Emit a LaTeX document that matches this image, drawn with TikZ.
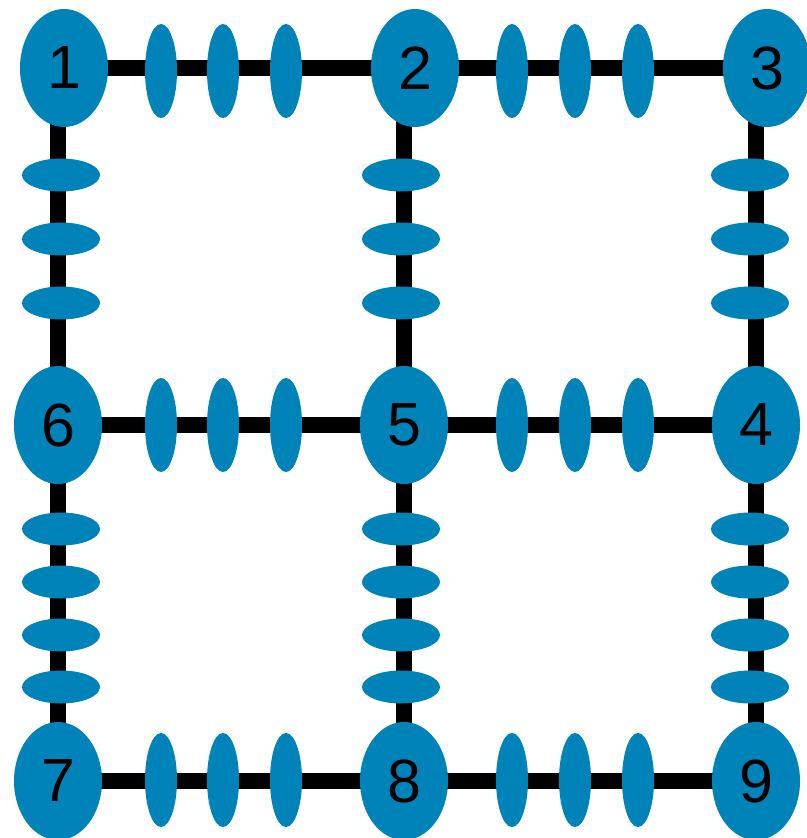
\documentclass[tikz,border=0pt]{standalone}
\usepackage{fontspec}
\setmainfont{Liberation Sans}
\usetikzlibrary{shapes.geometric,backgrounds}
\definecolor{beadblue}{HTML}{0083B8}

\tikzset{
  site/.style={ellipse, fill=beadblue, draw=none, inner sep=0pt,
    minimum width=88pt, minimum height=118pt, font=\fontsize{61}{61}\selectfont},
  beadv/.style={ellipse, fill=beadblue, draw=none, inner sep=0pt,
    minimum width=32pt, minimum height=94pt},
  beadh/.style={ellipse, fill=beadblue, draw=none, inner sep=0pt,
    minimum width=78pt, minimum height=33pt},
  bond/.style={line width=16pt, black},
}

\begin{document}
\begin{tikzpicture}[x=1pt,y=-1pt]
\useasboundingbox (0,0) rectangle (806,838);
% sites
\node[site] (n1) at (64,68) {1};
\node[site] (n2) at (415,68) {2};
\node[site] (n3) at (767,68) {3};
\node[site] (n6) at (58,425) {6};
\node[site] (n5) at (404,425) {5};
\node[site] (n4) at (756,425) {4};
\node[site] (n7) at (58,781) {7};
\node[site] (n8) at (404,781) {8};
\node[site] (n9) at (756,781) {9};
% bonds behind the sites
\begin{scope}[on background layer]
\draw[bond] (n1.center) -- (n2.center) -- (n3.center);
\draw[bond] (n6.center) -- (n5.center) -- (n4.center);
\draw[bond] (n7.center) -- (n8.center) -- (n9.center);
\draw[bond] (n7.center) -- (n6.center) -- (n6 |- n1);
\draw[bond] (n8.center) -- (n5.center) -- (n5 |- n2);
\draw[bond] (n9.center) -- (n4.center) -- (n4 |- n3);
\end{scope}
% beads on the rows
\foreach \x in {161,223,286,512,575,638}
  \foreach \y/\r in {71/a,425/b,780/c}
    \node[beadv] (v-\r-\x) at (\x,\y) {};
% beads on the columns
\foreach \x/\c in {61/a,401/b,750/c}{
  \foreach \y in {175,239,303}
    \node[beadh] (h-\c-\y) at (\x,\y) {};
  \foreach \y in {529,582,635,687}
    \node[beadh] (h-\c-\y) at (\x,\y) {};
}
\end{tikzpicture}
\end{document}
